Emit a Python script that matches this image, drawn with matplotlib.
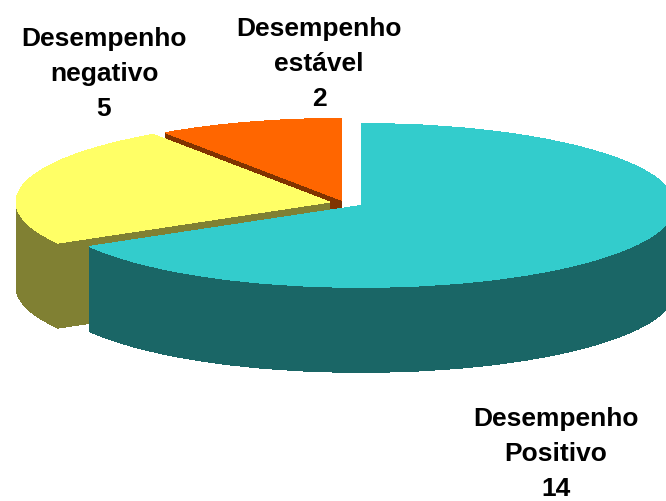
import matplotlib
matplotlib.use('agg')
import matplotlib.pyplot as plt

categories = ['Desempenho\nPositivo', 'Desempenho\nnegativo', 'Desempenho\nestável']
values = [14, 5, 2]
top_colors = ['#33CCCC', '#FFFF66', '#FF6600']
side_colors = ['#1A6666', '#808033', '#803300']
explode = [0.059, 0.049, 0.033]

W, H = 666, 502
# pie centre and radii, in pixels
cx, cy = 345, 204
rx, ry = 314, 82
depth = 85

plt.rcParams['font.family'] = ['Liberation Sans', 'DejaVu Sans']

fig = plt.figure(figsize=(W / 100, H / 100), dpi=100)
ax = fig.add_axes([0, 0, 1, 1])

# Stack flat pies from the bottom up to get the 3D wall
for i in range(depth, -1, -1):
    colors = top_colors if i == 0 else side_colors
    ax.pie(values, explode=explode, colors=colors, startangle=90, counterclock=False,
           center=(0, -i / ry), wedgeprops={'linewidth': 0, 'antialiased': False})

ax.set_aspect('auto')
ax.set_xlim(-cx / rx, (W - cx) / rx)
ax.set_ylim((cy - H) / ry, cy / ry)
ax.axis('off')

# Label centres, in pixels
label_pos = [(556, 454), (104, 74), (319, 64)]
for cat, val, (px, py) in zip(categories, values, label_pos):
    fig.text(px / W, 1 - py / H, '%s\n%d' % (cat, val), ha='center', va='center',
             fontsize=19, fontweight='bold', linespacing=1.56, color='black')

fig.savefig('out.png', dpi=100)
